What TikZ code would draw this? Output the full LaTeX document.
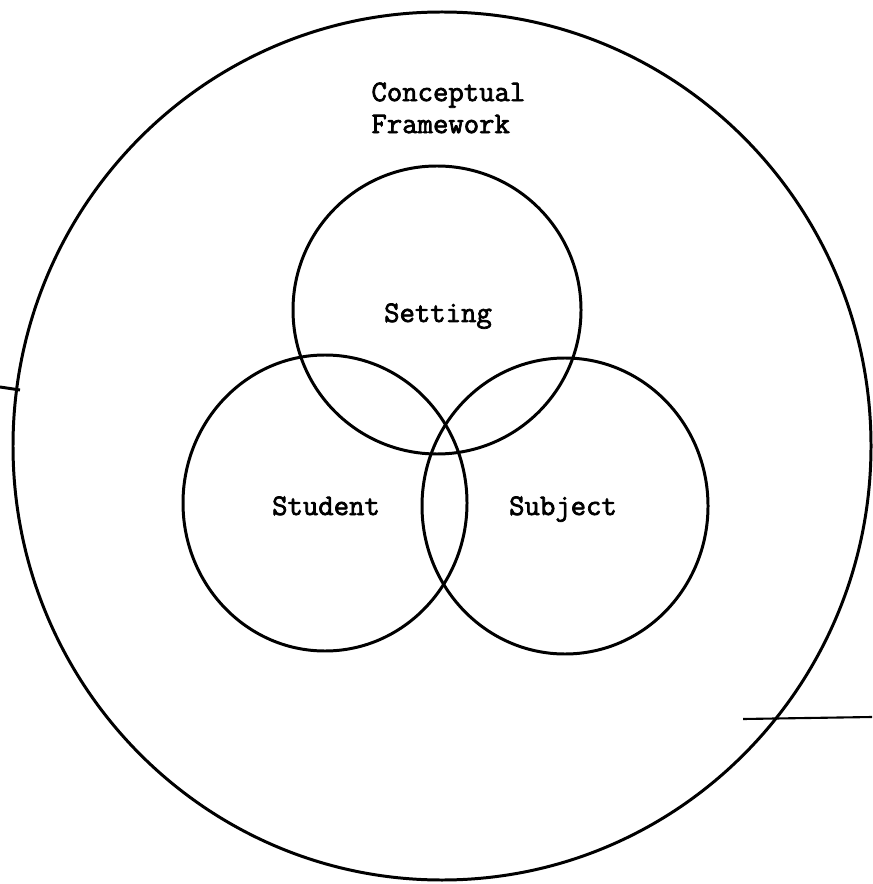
\documentclass[tikz,border=0pt]{standalone}
\usepackage{fontspec}
\newfontfamily\typefont[FakeBold=2.4]{Latin Modern Mono}
\begin{document}
\begin{tikzpicture}[x=0.02cm,y=-0.02cm,line width=1.7pt,
  lbl/.style={font=\typefont\fontsize{17}{18.2}\selectfont,inner sep=0pt}]
  \useasboundingbox (0,0) rectangle (872,884);
  \draw (442,446) ellipse (429 and 434);
  \draw (437,310) circle (144);
  \draw (325,503) ellipse (142 and 148);
  \draw (565,506) ellipse (143 and 148);
  \node[lbl,align=left,anchor=north west] (frame) at (370,81) {Conceptual\\Framework};
  \node[lbl,anchor=base] (setting) at (438,322) {Setting};
  \node[lbl,anchor=base] (student) at (326,515) {Student};
  \node[lbl,anchor=base] (subject) at (563,515) {Subject};
  % marks at the edges
  \draw (0,387) -- (20,390);
  \draw[line width=1.2pt] (743,719) -- (872,717);
\end{tikzpicture}
\end{document}
